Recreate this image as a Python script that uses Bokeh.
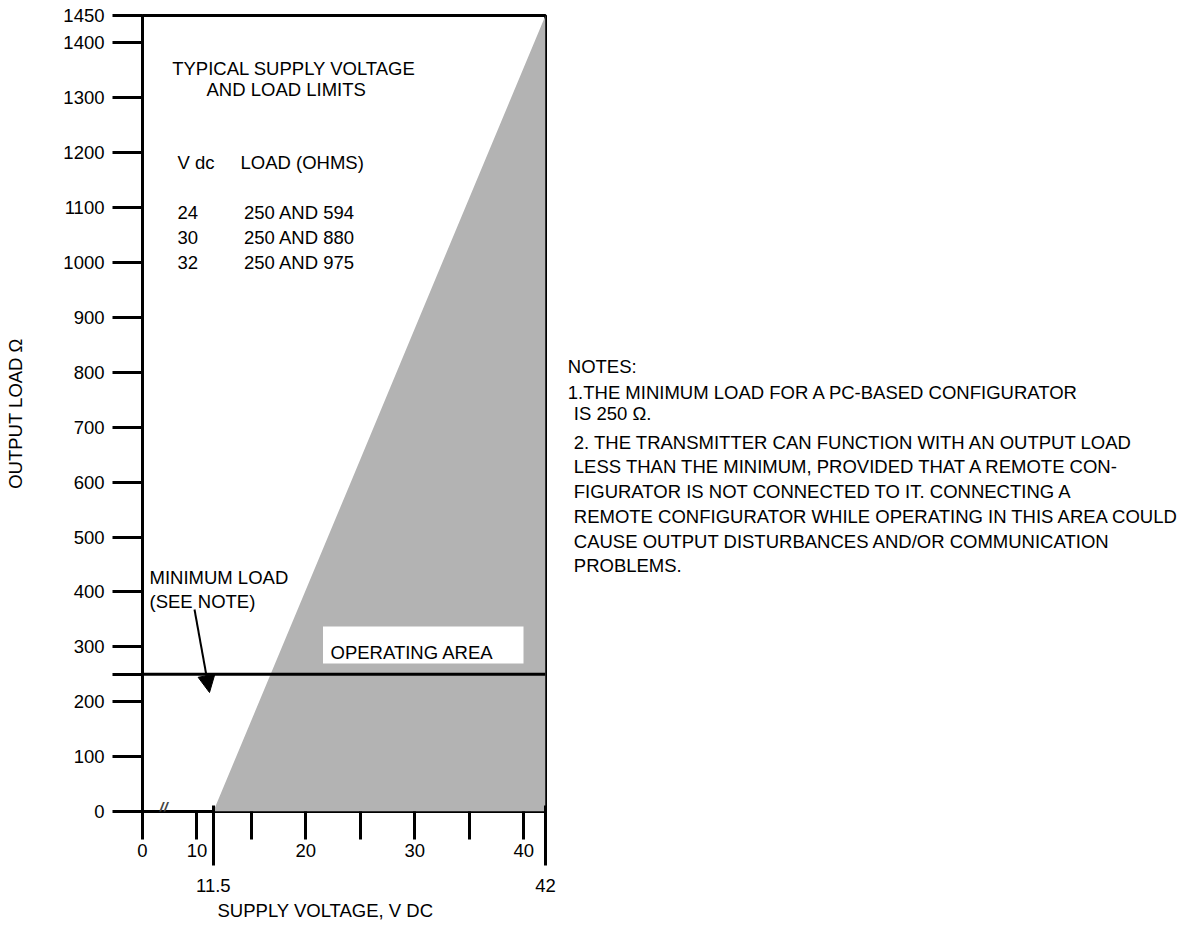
from bokeh.plotting import figure
from bokeh.layouts import row
from bokeh.models import (FixedTicker, LinearAxis, Span, Label, BoxAnnotation,
                          Arrow, NormalHead, Title)
from bokeh.embed import file_html
from bokeh.resources import INLINE

# ---------------- data ----------------
# operating-area boundary: maximum load for a given supply voltage
boundary_v = [11.5, 24, 30, 32, 42]          # V dc
boundary_load = [0, 594, 880, 975, 1450]     # ohms
v_max = 42
load_max = 1450
min_load = 250

table_vdc = ["24", "30", "32"]
table_load = ["250 AND 594", "250 AND 880", "250 AND 975"]

y_ticks = [0, 100, 200, 300, 400, 500, 600, 700, 800, 900, 1000, 1100, 1200, 1300, 1400, 1450]
x_break = 5                                   # axis is broken: this position is labelled "0"
x_ticks = [x_break, 10, 15, 20, 25, 30, 35, 40]
x_tick_labels = ["0", "10", "", "20", "", "30", "", "40"]
x_long_ticks = [11.5, 42]
x_long_labels = ["11.5", "42"]

notes = [
    "NOTES:",
    "1.THE MINIMUM LOAD FOR A PC-BASED CONFIGURATOR",
    "IS 250 \u03a9.",
    "2. THE TRANSMITTER CAN FUNCTION WITH AN OUTPUT LOAD",
    "LESS THAN THE MINIMUM, PROVIDED THAT A REMOTE CON-",
    "FIGURATOR IS NOT CONNECTED TO IT. CONNECTING A",
    "REMOTE CONFIGURATOR WHILE OPERATING IN THIS AREA COULD",
    "CAUSE OUTPUT DISTURBANCES AND/OR COMMUNICATION",
    "PROBLEMS.",
]

# ---------------- layout ----------------
FONT = "Liberation Sans"
FS = "18.5px"
H = 926
BL, BT = 142, 15
FW, FH = 403, 796
W1 = 560
BR, BB = W1 - BL - FW, H - BT - FH
FL, FT = BL, BT
FR, FB = FL + FW, FT + FH
W2 = 628


def dx(px):
    return x_break + (px - FL) * (v_max - x_break) / FW


def dy(py):
    return (FB - py) * load_max / FH


p = figure(width=W1, height=H, x_range=(x_break, v_max), y_range=(0, load_max),
           output_backend="svg", toolbar_location=None,
           x_axis_location=None, y_axis_location=None,
           min_border_left=BL, min_border_right=BR,
           min_border_top=BT, min_border_bottom=BB)
p.grid.visible = False
p.outline_line_color = "black"
p.outline_line_width = 3
p.background_fill_color = "white"
p.border_fill_color = "white"


def style_axis(ax):
    ax.axis_line_color = None
    ax.major_tick_line_color = "black"
    ax.major_tick_line_width = 3
    ax.minor_tick_line_color = None
    ax.major_label_text_font = FONT
    ax.major_label_text_font_size = FS
    ax.major_label_text_color = "black"


# y axis
yax = LinearAxis(ticker=FixedTicker(ticks=y_ticks + [min_load]),
                 major_label_overrides={min_load: ""})
style_axis(yax)
yax.major_tick_in = 0
yax.major_tick_out = 30
yax.major_label_standoff = 8
yax.axis_label = "OUTPUT LOAD \u03a9"
yax.axis_label_text_font = FONT
yax.axis_label_text_font_size = FS
yax.axis_label_text_font_style = "normal"
yax.axis_label_text_color = "black"
yax.axis_label_standoff = 34
p.add_layout(yax, "left")

# x axis (regular ticks)
xax = LinearAxis(ticker=FixedTicker(ticks=x_ticks),
                 major_label_overrides={t: l for t, l in zip(x_ticks, x_tick_labels)})
style_axis(xax)
xax.major_tick_in = 0
xax.major_tick_out = 28
xax.major_label_standoff = 4
p.add_layout(xax, "below")

# x axis (long ticks at the limits)
xax2 = LinearAxis(ticker=FixedTicker(ticks=x_long_ticks),
                  major_label_overrides={t: l for t, l in zip(x_long_ticks, x_long_labels)})
style_axis(xax2)
xax2.major_tick_in = 54
xax2.major_tick_out = 6
xax2.major_label_standoff = 13
p.add_layout(xax2, "below")

p.add_layout(Title(text="SUPPLY VOLTAGE, V DC", align="left", offset=75,
                   standoff=6, text_font=FONT, text_font_size=FS,
                   text_font_style="normal", text_color="black"), "below")

# operating area
p.patch(boundary_v + [v_max], boundary_load + [0], fill_color="#b3b3b3",
        line_color=None)

# minimum load line
p.add_layout(Span(location=min_load, dimension="width", line_color="black",
                  line_width=3))

# axis break mark
p.add_layout(Label(x=dx(163), y=dy(807), text="//", text_font=FONT,
                   text_font_size="15px", text_font_style="bold italic",
                   text_align="center", text_baseline="middle"))


def txt(px, py, s, size=FS, align="left"):
    p.add_layout(Label(x=dx(px), y=dy(py), text=s, text_font=FONT,
                       text_font_size=size, text_color="black",
                       text_align=align, text_baseline="alphabetic"))


# title block
txt(171.7, 67.7, "TYPICAL SUPPLY VOLTAGE")
txt(206, 89.3, "AND LOAD LIMITS")
txt(177, 162.3, "V dc")
txt(240, 162.3, "LOAD (OHMS)")
for i, (v, l) in enumerate(zip(table_vdc, table_load)):
    txt(177, 212 + 25 * i, v)
    txt(243.5, 212 + 25 * i, l)

# minimum load annotation
txt(149, 576.7, "MINIMUM LOAD")
txt(149, 600.5, "(SEE NOTE)")
p.add_layout(Arrow(end=NormalHead(size=17, fill_color="black", line_color="black"),
                   x_start=dx(194), y_start=dy(609), x_end=dx(209), y_end=dy(692),
                   line_color="black", line_width=2))

# operating area label
p.add_layout(BoxAnnotation(left=dx(322.5), right=dx(523), top=dy(626), bottom=dy(663),
                           fill_color="white", fill_alpha=1, line_color=None))
txt(330, 652.3, "OPERATING AREA")

# ---------------- notes panel ----------------
# frames in a row are aligned, so this panel's frame spans the same rows as the chart
p2 = figure(width=W2, height=H, x_range=(W1, W1 + W2), y_range=(FB, FT),
            output_backend="svg", toolbar_location=None,
            x_axis_location=None, y_axis_location=None,
            min_border_left=0, min_border_right=0, min_border_top=BT,
            min_border_bottom=BB)
p2.grid.visible = False
p2.outline_line_color = None
p2.background_fill_color = "white"
p2.border_fill_color = "white"

note_y = [366, 391.7, 413.3, 441.7, 466.2, 491, 516, 540.5, 565]
note_x = [567.3, 567.3, 573.3, 573.3, 573.3, 573.3, 573.3, 573.3, 573.3]
for s, xx, yy in zip(notes, note_x, note_y):
    p2.add_layout(Label(x=xx, y=yy, text=s, text_font=FONT, text_font_size=FS,
                        text_color="black", text_align="left",
                        text_baseline="alphabetic"))

layout = row(p, p2)
open("out.html", "w").write(file_html(layout, INLINE))
